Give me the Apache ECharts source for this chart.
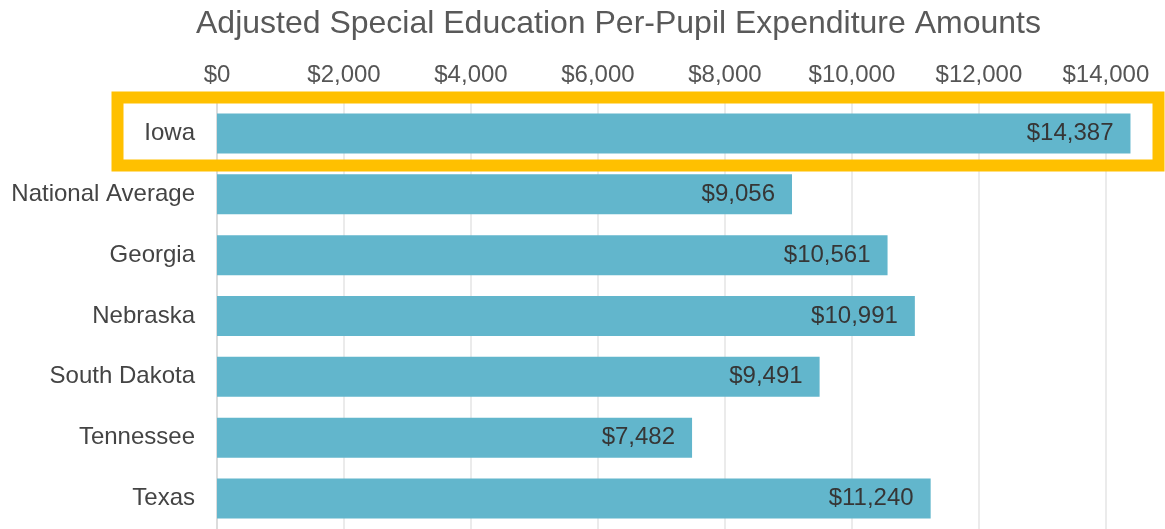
<!DOCTYPE html>
<html>
<head>
<meta charset="utf-8">
<script src="https://cdn.jsdelivr.net/npm/echarts@6/dist/echarts.min.js"></script>
<style>
  html, body { margin: 0; padding: 0; background: #fff; }
  #chart { width: 1165px; height: 529px; }
</style>
</head>
<body>
<div id="chart"></div>
<script>
const categories = ['Iowa', 'National Average', 'Georgia', 'Nebraska', 'South Dakota', 'Tennessee', 'Texas'];
const amounts = [14387, 9056, 10561, 10991, 9491, 7482, 11240];
const highlighted = 'Iowa';

const font = '"Liberation Sans", Arial, sans-serif';
const money = v => '$' + v.toLocaleString('en-US');

const chart = echarts.init(document.getElementById('chart'));

chart.setOption({
  animation: false,
  title: {
    text: 'Adjusted Special Education Per-Pupil Expenditure Amounts',
    left: 191,
    top: 3,
    textStyle: { fontFamily: font, fontSize: 32, fontWeight: 'normal', color: '#595959' }
  },
  grid: { left: 217, right: 21, top: 103, bottom: -1, containLabel: false },
  xAxis: {
    type: 'value',
    position: 'top',
    min: 0,
    max: 14600,
    interval: 2000,
    axisLine: { show: false },
    axisTick: { show: false },
    axisLabel: {
      formatter: money,
      showMaxLabel: false,
      margin: 16,
      fontFamily: font,
      fontSize: 24,
      color: '#555'
    },
    splitLine: { showMaxLine: false, lineStyle: { color: '#ebebeb', width: 2 } }
  },
  yAxis: {
    type: 'category',
    inverse: true,
    data: categories,
    axisLine: { show: true, lineStyle: { color: '#dcdcdc', width: 2 } },
    axisTick: { show: false },
    axisLabel: { margin: 22, fontFamily: font, fontSize: 24, color: '#444' }
  },
  series: [{
    type: 'bar',
    data: amounts,
    barWidth: 40,
    itemStyle: { color: '#62b6cc' },
    label: {
      show: true,
      position: 'insideRight',
      distance: 17,
      formatter: p => money(p.value),
      fontFamily: font,
      fontSize: 24,
      color: '#363636'
    }
  }]
});

// orange frame around the highlighted row
const rowY = chart.convertToPixel({ yAxisIndex: 0 }, highlighted);
chart.setOption({
  graphic: [{
    type: 'rect',
    shape: { x: 117.5, y: rowY - 36, width: 1041, height: 68 },
    style: { fill: 'none', stroke: '#ffc000', lineWidth: 12 },
    z: 10
  }]
});
</script>
</body>
</html>
